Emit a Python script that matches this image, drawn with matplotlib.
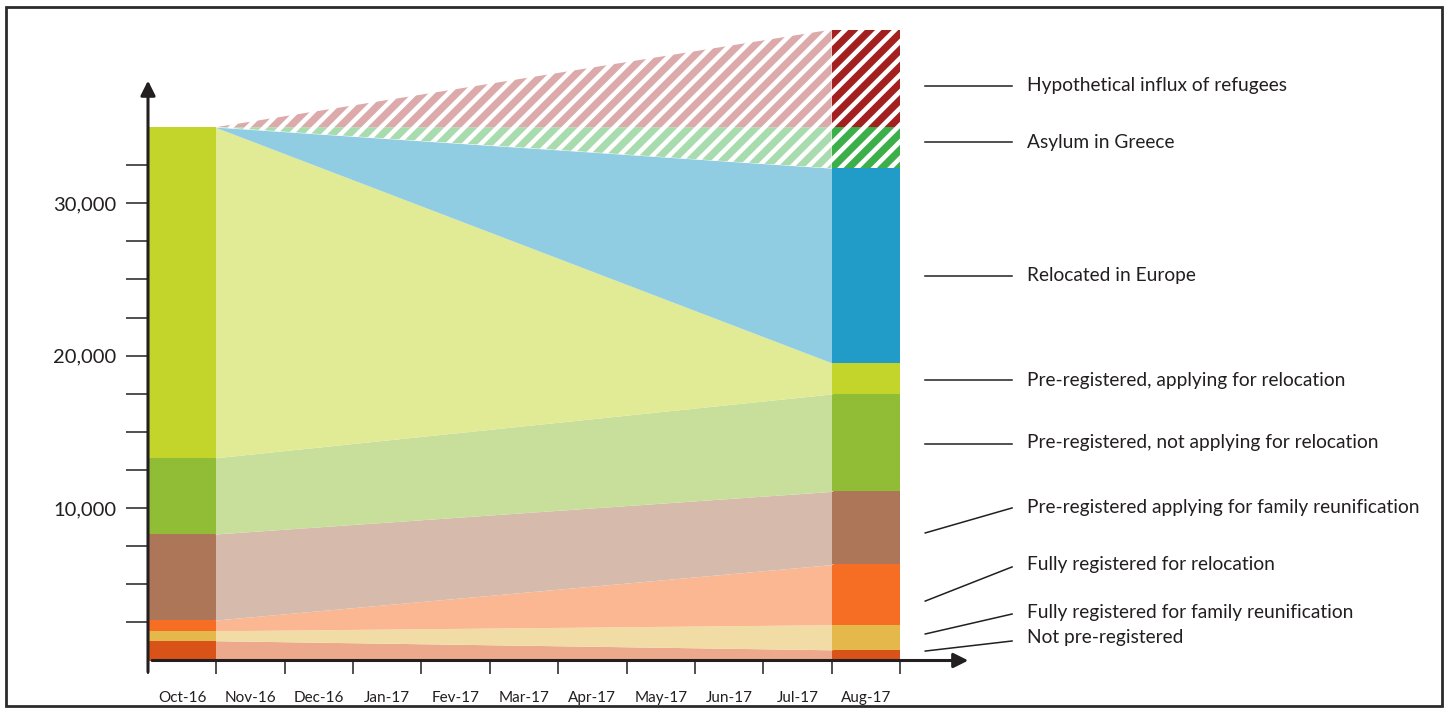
import matplotlib.pyplot as plt
import matplotlib.colors as mcolors
from matplotlib.patches import Rectangle
from matplotlib.lines import Line2D

plt.rcParams['font.family'] = ['Lato', 'DejaVu Sans']
plt.rcParams['hatch.linewidth'] = 5.2

# data (bottom to top of the stack)
series = ['Not pre-registered',
          'Fully registered for family reunification',
          'Fully registered for relocation',
          'Pre-registered applying for family reunification',
          'Pre-registered, not applying for relocation',
          'Pre-registered, applying for relocation',
          'Relocated in Europe',
          'Asylum in Greece',
          'Hypothetical influx of refugees']
oct16 = [1300, 650, 700, 5650, 5000, 21700, 0, 0, 0]
aug17 = [700, 1650, 3950, 4800, 6400, 2000, 12800, 2700, 6400]
months = ['Oct-16', 'Nov-16', 'Dec-16', 'Jan-17', 'Fev-17', 'Mar-17',
          'Apr-17', 'May-17', 'Jun-17', 'Jul-17', 'Aug-17']

colors = ['#d95218', '#e4b84a', '#f56e23', '#ad7659', '#90bc36',
          '#c3d52b', '#219bc8', '#3daf4a', '#a2201f']
hatched = [False] * 7 + [True, True]
fade = [0.5] * 7 + [0.45, 0.38]

# label layout: y of text, leader line start / end
label_y = [1480, 3180, 6330, 10070, 14300, 18400, 25230, 34020, 37760]
line_y0 = [620, 1740, 3900, 8370, 14200, 18400, 25230, 34020, 37700]
line_y1 = [1280, 3050, 6140, 10010, 14200, 18400, 25230, 34020, 37700]


def light(c, a):
    r, g, b = mcolors.to_rgb(c)
    return (1 - a + a * r, 1 - a + a * g, 1 - a + a * b)


fig = plt.figure(figsize=(14.5, 7.11), dpi=100)
ax = fig.add_axes([148 / 1450, 50.5 / 711, 12.5 * 68.36 / 1450, 42000 * 0.01524 / 711])
ax.set_xlim(0, 12.5)
ax.set_ylim(0, 42000)

i_first, i_last = 0, len(months) - 1
b_oct = 0
b_aug = 0
for k in range(len(series)):
    t_oct = b_oct + oct16[k]
    t_aug = b_aug + aug17[k]
    lc = light(colors[k], fade[k])
    # small overlap under the bars so no seam shows
    xs = [i_first + 0.98, i_last + 0.02]
    if hatched[k]:
        ax.fill_between([i_first + 1, i_last], [b_oct, b_aug], [t_oct, t_aug],
                        facecolor='white', edgecolor=lc, hatch='//', linewidth=0)
        ax.bar(i_last, aug17[k], width=1, bottom=b_aug, align='edge',
               color='white', edgecolor=colors[k], hatch='//', linewidth=0)
    else:
        ax.fill_between(xs, [b_oct, b_aug], [t_oct, t_aug],
                        color=lc, linewidth=0)
        ax.bar(i_first, oct16[k], width=1, bottom=b_oct, align='edge',
               color=colors[k], linewidth=0)
        ax.bar(i_last, aug17[k], width=1, bottom=b_aug, align='edge',
               color=colors[k], linewidth=0)
    b_oct, b_aug = t_oct, t_aug

    # labels on the right
    ax.text(12.86, label_y[k], series[k], fontsize=13.8, va='center', ha='left',
            color='#231f20')
    ax.add_line(Line2D([11.37, 12.64], [line_y0[k], line_y1[k]], color='#231f20',
                       lw=1.1, clip_on=False))

for s in ax.spines.values():
    s.set_visible(False)

# axes with arrows
ax.annotate('', xy=(0, 38050), xytext=(0, -750),
            arrowprops=dict(arrowstyle='-|>', color='#231f20', lw=2.2,
                            mutation_scale=22, shrinkA=0, shrinkB=0),
            annotation_clip=False)
ax.annotate('', xy=(12.0, 0), xytext=(0.06, 0),
            arrowprops=dict(arrowstyle='-|>', color='#231f20', lw=2.2,
                            mutation_scale=22, shrinkA=0, shrinkB=0),
            annotation_clip=False)

ax.set_yticks(range(2500, 35000, 2500))
ax.set_yticklabels(['{:,}'.format(v) if v % 10000 == 0 else '' for v in range(2500, 35000, 2500)])
ax.tick_params(axis='y', length=16, width=1.1, color='#231f20', pad=6.5,
               labelsize=14.5, labelcolor='#231f20')

ax.set_xticks(range(len(months) + 1))
ax.set_xticklabels([])
ax.set_xticks([i + 0.5 for i in range(len(months))], minor=True)
ax.set_xticklabels(months, minor=True)
ax.tick_params(axis='x', which='major', length=9, width=1.1, color='#231f20')
ax.tick_params(axis='x', which='minor', length=0, pad=22, labelsize=11,
               labelcolor='#231f20')

fig.add_artist(Rectangle((6 / 1450, 5 / 711), 1436 / 1450, 699 / 711,
                         transform=fig.transFigure, fill=False,
                         edgecolor='#2b2b2b', lw=2))

fig.savefig('out.png', dpi=100)
